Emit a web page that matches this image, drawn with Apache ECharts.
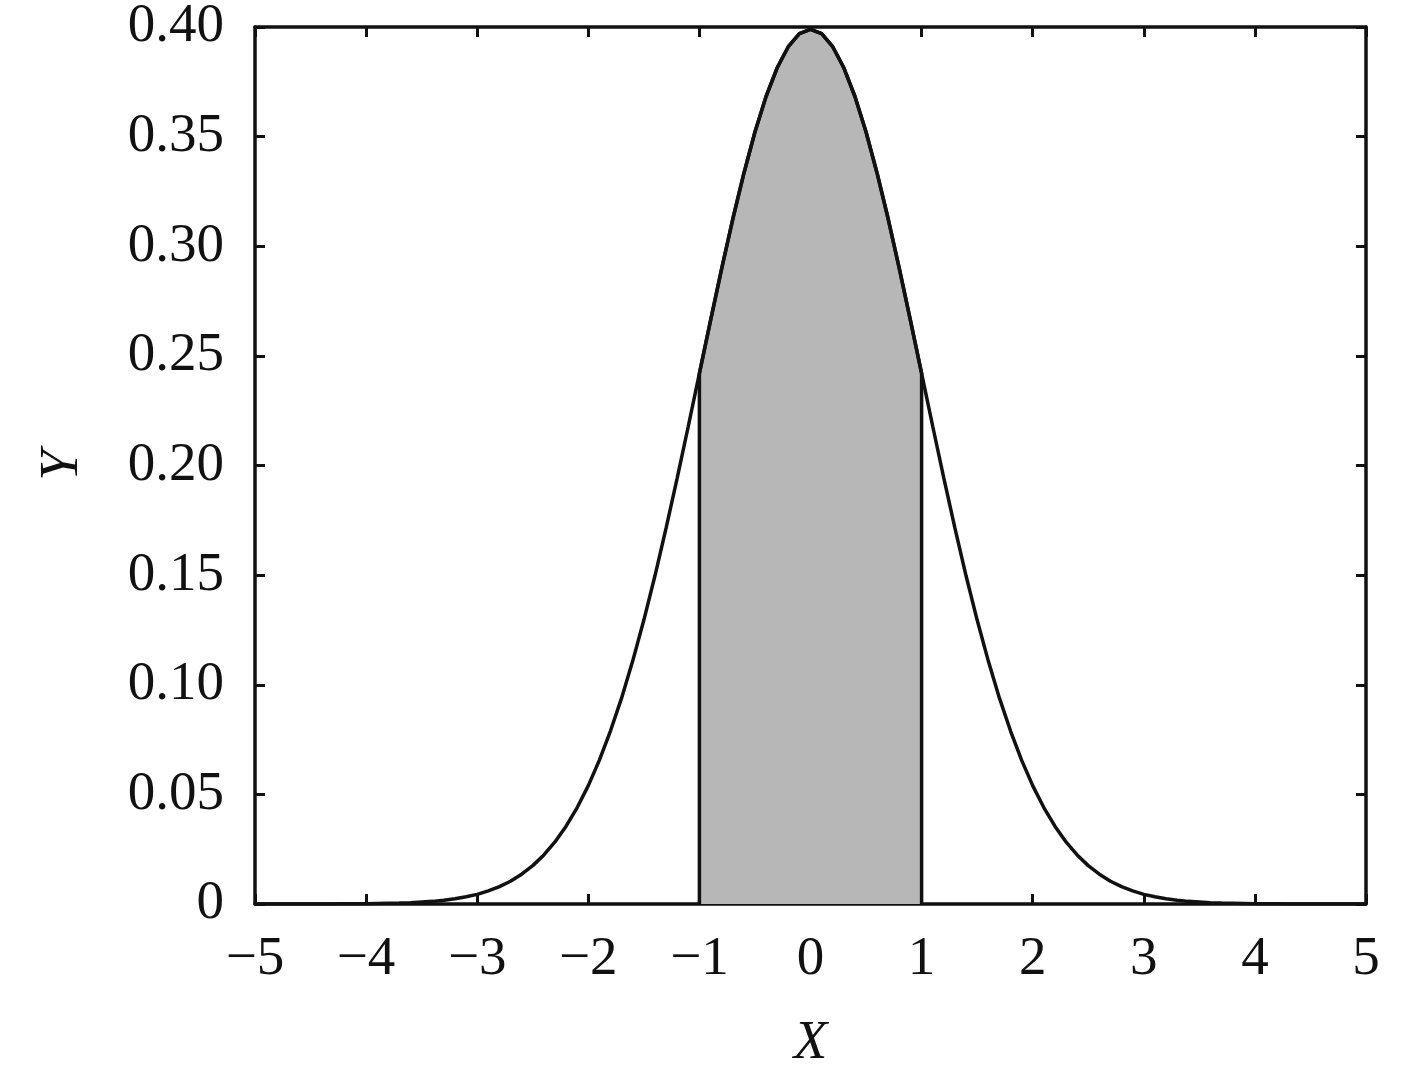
<!DOCTYPE html>
<html>
<head>
<meta charset="utf-8">
<script src="https://cdn.jsdelivr.net/npm/echarts@6/dist/echarts.min.js"></script>
<style>
    html, body { margin: 0; padding: 0; background: #fff; }
    #chart { width: 1417px; height: 1075px; }
</style>
</head>
<body>
<div id="chart"></div>
<script>
    // x from -5 to 5, step 0.1
    var xValues = [
        -5.0, -4.9, -4.8, -4.7, -4.6, -4.5, -4.4, -4.3, -4.2, -4.1,
        -4.0, -3.9, -3.8, -3.7, -3.6, -3.5, -3.4, -3.3, -3.2, -3.1,
        -3.0, -2.9, -2.8, -2.7, -2.6, -2.5, -2.4, -2.3, -2.2, -2.1,
        -2.0, -1.9, -1.8, -1.7, -1.6, -1.5, -1.4, -1.3, -1.2, -1.1,
        -1.0, -0.9, -0.8, -0.7, -0.6, -0.5, -0.4, -0.3, -0.2, -0.1,
        0.0, 0.1, 0.2, 0.3, 0.4, 0.5, 0.6, 0.7, 0.8, 0.9,
        1.0, 1.1, 1.2, 1.3, 1.4, 1.5, 1.6, 1.7, 1.8, 1.9,
        2.0, 2.1, 2.2, 2.3, 2.4, 2.5, 2.6, 2.7, 2.8, 2.9,
        3.0, 3.1, 3.2, 3.3, 3.4, 3.5, 3.6, 3.7, 3.8, 3.9,
        4.0, 4.1, 4.2, 4.3, 4.4, 4.5, 4.6, 4.7, 4.8, 4.9,
        5.0
    ];
    var yValues = [
        0.0000, 0.0000, 0.0000, 0.0000, 0.0000, 0.0000, 0.0000, 0.0000, 0.0001, 0.0001,
        0.0001, 0.0002, 0.0003, 0.0004, 0.0006, 0.0009, 0.0012, 0.0017, 0.0024, 0.0033,
        0.0044, 0.0060, 0.0079, 0.0104, 0.0136, 0.0175, 0.0224, 0.0283, 0.0355, 0.0440,
        0.0540, 0.0656, 0.0790, 0.0940, 0.1109, 0.1295, 0.1497, 0.1714, 0.1942, 0.2179,
        0.2420, 0.2661, 0.2897, 0.3123, 0.3332, 0.3521, 0.3683, 0.3814, 0.3910, 0.3970,
        0.3989, 0.3970, 0.3910, 0.3814, 0.3683, 0.3521, 0.3332, 0.3123, 0.2897, 0.2661,
        0.2420, 0.2179, 0.1942, 0.1714, 0.1497, 0.1295, 0.1109, 0.0940, 0.0790, 0.0656,
        0.0540, 0.0440, 0.0355, 0.0283, 0.0224, 0.0175, 0.0136, 0.0104, 0.0079, 0.0060,
        0.0044, 0.0033, 0.0024, 0.0017, 0.0012, 0.0009, 0.0006, 0.0004, 0.0003, 0.0002,
        0.0001, 0.0001, 0.0001, 0.0000, 0.0000, 0.0000, 0.0000, 0.0000, 0.0000, 0.0000,
        0.0000
    ];
    // shaded interval
    var shadeFrom = -1;
    var shadeTo = 1;

    var curve = [];
    var shade = [[shadeFrom, 0]];
    for (var i = 0; i < xValues.length; i++) {
        curve.push([xValues[i], yValues[i]]);
        if (xValues[i] >= shadeFrom - 1e-9 && xValues[i] <= shadeTo + 1e-9) {
            shade.push([xValues[i], yValues[i]]);
        }
    }
    shade.push([shadeTo, 0]);

    var font = '"Liberation Serif", "Times New Roman", serif';
    var ink = '#111';

    var chart = echarts.init(document.getElementById('chart'));
    var option = {
        animation: false,
        backgroundColor: '#fff',
        grid: { left: 255, right: 51, top: 27, bottom: 171, outerBoundsMode: 'none', containLabel: false },
        xAxis: [
            {
                type: 'value',
                min: -5, max: 5, interval: 1,
                name: 'X',
                nameLocation: 'middle',
                nameGap: 112,
                nameTextStyle: { fontFamily: font, fontStyle: 'italic', fontSize: 55, color: ink },
                axisLine: { show: true, onZero: false, lineStyle: { color: ink, width: 3.5 } },
                axisTick: { show: true, inside: true, length: 10, lineStyle: { color: ink, width: 3 } },
                axisLabel: {
                    margin: 28,
                    fontFamily: font, fontSize: 55, color: ink,
                    formatter: function (v) { return String(v).replace('-', '\u2212'); }
                },
                splitLine: { show: false }
            },
            {
                type: 'value',
                position: 'top',
                min: -5, max: 5, interval: 1,
                axisLine: { show: true, onZero: false, lineStyle: { color: ink, width: 3.5 } },
                axisTick: { show: true, inside: true, length: 10, lineStyle: { color: ink, width: 3 } },
                axisLabel: { show: false },
                splitLine: { show: false }
            }
        ],
        yAxis: [
            {
                type: 'value',
                min: 0, max: 0.4, interval: 0.05,
                name: 'Y',
                nameLocation: 'middle',
                nameGap: 165,
                nameRotate: 90,
                nameTextStyle: { fontFamily: font, fontStyle: 'italic', fontSize: 55, color: ink },
                axisLine: { show: true, onZero: false, lineStyle: { color: ink, width: 3.5 } },
                axisTick: { show: true, inside: true, length: 10, lineStyle: { color: ink, width: 3 } },
                axisLabel: {
                    margin: 31,
                    fontFamily: font, fontSize: 55, color: ink,
                    formatter: function (v) { return v === 0 ? '0' : v.toFixed(2); }
                },
                splitLine: { show: false }
            },
            {
                type: 'value',
                position: 'right',
                min: 0, max: 0.4, interval: 0.05,
                axisLine: { show: true, onZero: false, lineStyle: { color: ink, width: 3.5 } },
                axisTick: { show: true, inside: true, length: 10, lineStyle: { color: ink, width: 3 } },
                axisLabel: { show: false },
                splitLine: { show: false }
            }
        ],
        series: [
            {
                type: 'line',
                data: shade,
                symbol: 'none',
                lineStyle: { color: ink, width: 3.5 },
                areaStyle: { color: '#b7b7b7', opacity: 1, origin: 'start' },
                z: 2
            },
            {
                type: 'line',
                data: curve,
                symbol: 'none',
                lineStyle: { color: ink, width: 3.5 },
                z: 3
            }
        ]
    };
    chart.setOption(option);
</script>
</body>
</html>
